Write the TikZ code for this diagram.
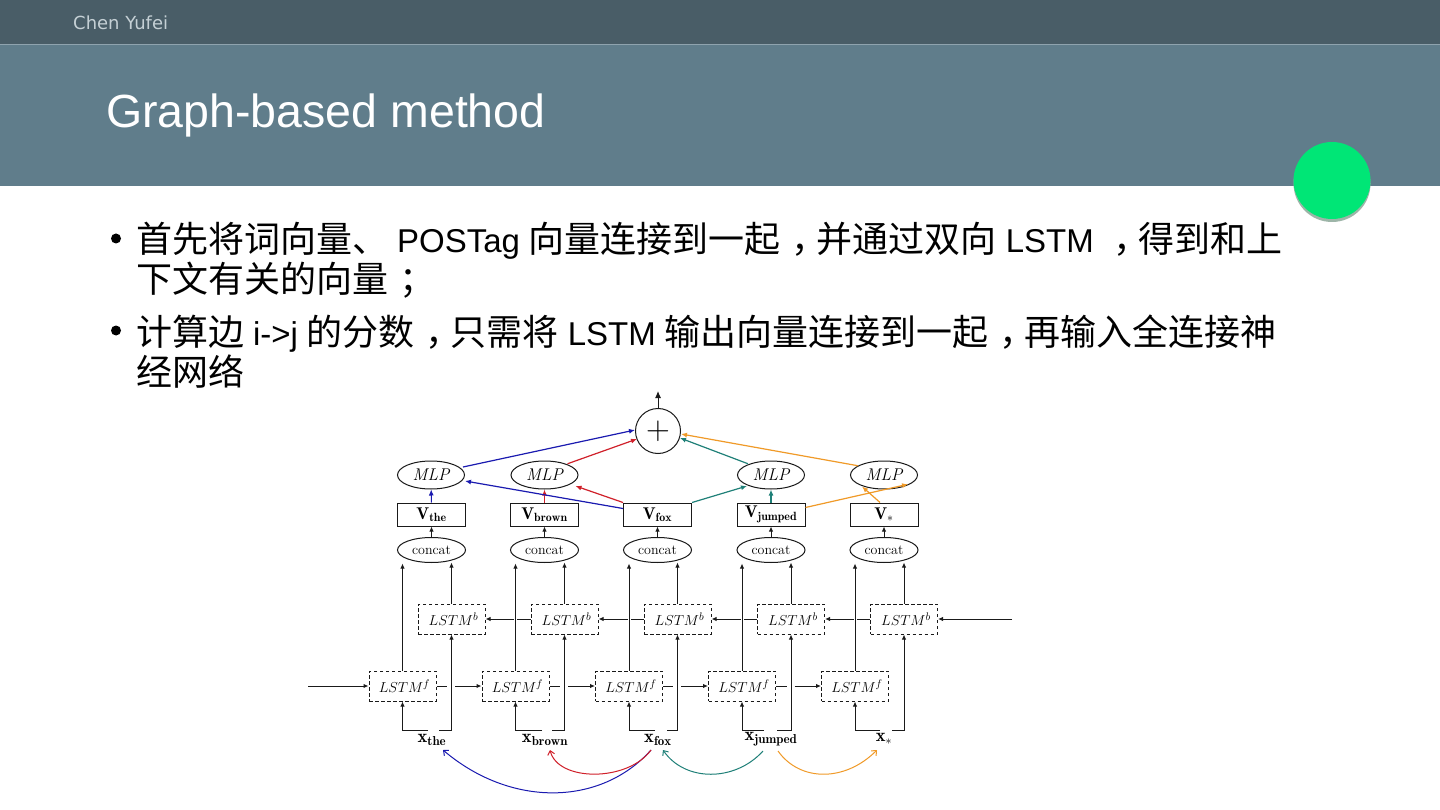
\documentclass[tikz,border=0pt]{standalone}
\usepackage{fontspec}
\newfontfamily\dv{DejaVu Sans}
\newfontfamily\ls{Liberation Sans}
\newfontfamily\cjk{Noto Sans CJK SC}
\usetikzlibrary{arrows.meta,calc,shapes.geometric}
\definecolor{topbar}{HTML}{495D67}
\definecolor{titlebar}{HTML}{607D8B}
\definecolor{barline}{HTML}{8FA3AE}
\definecolor{dotgreen}{HTML}{00E676}
\definecolor{dotshadow}{HTML}{9DB5A8}
\definecolor{nameCol}{HTML}{C5D0D5}
\definecolor{ink}{HTML}{1A1A1A}
\definecolor{bluearc}{HTML}{1A1AB0}
\definecolor{redarc}{HTML}{D0202A}
\definecolor{tealarc}{HTML}{1F8078}
\definecolor{orangearc}{HTML}{F09A28}
\newcommand{\zh}[1]{{\cjk\fontsize{36}{36}\selectfont #1}}
\newcommand{\en}[1]{{\ls\fontsize{33}{33}\selectfont #1}}
\newcommand{\sep}{{\ls\fontsize{32}{32}\selectfont\ }}
\newcommand{\cma}{\zh{\hspace{0.3em}，\hspace{-0.3em}}}
\newcommand{\smc}{\zh{\hspace{0.3em}；\hspace{-0.3em}}}
\tikzset{
  x=1pt,y=-1pt,
  wire/.style={draw=ink,line width=1pt,-{Latex[length=5pt,width=4.5pt]}},
  plainwire/.style={draw=ink,line width=1pt},
  colwire/.style={line width=1.2pt,-{Latex[length=6pt,width=5pt]}},
  arcwire/.style={line width=1pt,-{Straight Barb[length=4pt,width=7pt]}},
  fbox/.style={draw=ink,line width=1pt,dash pattern=on 3.5pt off 2.5pt,minimum width=67pt,minimum height=30pt,inner sep=0pt,font=\fontsize{15.5}{16}\selectfont},
  vbox/.style={draw=ink,line width=1pt,minimum width=68pt,minimum height=23pt,inner sep=0pt,font=\fontsize{17}{17}\selectfont},
  ovalc/.style={draw=ink,line width=1pt,ellipse,minimum width=68pt,minimum height=25pt,inner sep=0pt,font=\fontsize{14}{14}\selectfont},
  ovalm/.style={draw=ink,line width=1pt,ellipse,minimum width=67pt,minimum height=28pt,inner sep=0pt,font=\fontsize{17}{17}\selectfont},
  inlabel/.style={inner sep=0pt,font=\fontsize{18.5}{18}\selectfont},
  bodyline/.style={anchor=base west,inner sep=0pt,text=black},
  bulletdot/.style={circle,fill=black,inner sep=0pt,minimum size=10pt},
}
\begin{document}
\begin{tikzpicture}
\useasboundingbox (0,0) rectangle (1440,810);
\fill[white] (0,0) rectangle (1440,810);
\fill[titlebar] (0,44) rectangle (1440,186);
\fill[topbar] (0,0) rectangle (1440,44);
\fill[barline] (0,43.6) rectangle (1440,44.6);
\node[anchor=base west,inner sep=0pt,text=nameCol,font=\dv\fontsize{18}{18}\selectfont] (author) at (73,30) {Chen Yufei};
\node[anchor=base west,inner sep=0pt,text=white,font=\ls\fontsize{46.5}{46}\selectfont] (title) at (106,128) {Graph-based method};
\fill[dotshadow] (1332,183.5) circle (38.5);
\fill[dotgreen] (1332,180.5) circle (38.5);
\node[bulletdot] (b1) at (116,238.5) {};
\node[bulletdot] (b2) at (116,330.5) {};
\node[bodyline] (l1) at (136,253) {\zh{首先将词向量、}\sep\en{POSTag}\sep\zh{向量连接到一起}\cma\zh{并通过双向}\sep\en{LSTM}\sep\cma\zh{得到和上}};
\node[bodyline] (l2) at (136,293) {\zh{下文有关的向量}\smc};
\node[bodyline] (l3) at (136,345) {\zh{计算边}\sep\en{i->j}\sep\zh{的分数}\cma\zh{只需将}\sep\en{LSTM}\sep\zh{输出向量连接到一起}\cma\zh{再输入全连接神}};
\node[bodyline] (l4) at (136,385) {\zh{经网络}};
% diagram
\node[circle,draw=ink,line width=1pt,minimum size=45pt,inner sep=0pt] (plus) at (658,431) {\fontsize{33}{33}\selectfont +};
\coordinate (top) at (658,391);
\draw[wire,-{Latex[length=7pt,width=6pt]}] (plus) -- (top);
\foreach \n/\x in {the/431.5,brown/544.5,fox/657.5,jumped/771,star/884}{
  \node[ovalc] (c\n) at (\x,550) {concat};
}
\node[ovalm] (mthe) at (431,475) {\itshape MLP};
\node[ovalm] (mbrown) at (544.5,475) {\itshape MLP};
\node[ovalm] (mjumped) at (771,475) {\itshape MLP};
\node[ovalm] (mstar) at (884,475) {\itshape MLP};
\node[vbox] (vthe) at (431.5,514.5) {$\mathbf{V}_{\mathbf{the}}$};
\node[vbox] (vbrown) at (544.5,514.5) {$\mathbf{V}_{\mathbf{brown}}$};
\node[vbox] (vfox) at (657.5,514.5) {$\mathbf{V}_{\mathbf{fox}}$};
\node[vbox] (vjumped) at (771,514.5) {$\mathbf{V}_{\mathbf{jumped}}$};
\node[vbox] (vstar) at (884,514.5) {$\mathbf{V}_{*}$};
\foreach \n in {the,brown,fox,jumped,star}{\draw[wire] (c\n) -- (v\n);}
\foreach \n/\x in {f1/402.5,f2/515.5,f3/629,f4/742,f5/855}{
  \node[fbox] (\n) at (\x,686) {\hspace{4pt}$LSTM^{f}$};
}
\foreach \n/\x in {k1/451.5,k2/564.5,k3/677.5,k4/791,k5/904}{
  \node[fbox] (\n) at (\x,619) {\hspace{4pt}$LSTM^{b}$};
}
\node[inlabel] (xthe) at (432,739.5) {$\mathbf{x}_{\mathbf{the}}$};
\node[inlabel] (xbrown) at (545,739.5) {$\mathbf{x}_{\mathbf{brown}}$};
\node[inlabel] (xfox) at (658,739.5) {$\mathbf{x}_{\mathbf{fox}}$};
\node[inlabel] (xjumped) at (771,739.5) {$\mathbf{x}_{\mathbf{jumped}}$};
\node[inlabel] (xstar) at (884,739) {$\mathbf{x}_{*}$};
% vertical wires
\foreach \f/\k/\fx/\kx/\gl/\gr in {f1/k1/402.5/451.5/428/439,f2/k2/515.5/564.5/542/552,f3/k3/629/677.5/655/667,f4/k4/742/791/764/777,f5/k5/855/904/880/892}{
  \coordinate (tf) at (\fx,563.5);
  \coordinate (tk) at (\kx,562.5);
  \coordinate (gl) at (\gl,730);
  \coordinate (gr) at (\gr,730);
  \coordinate (cl) at (\fx,730);
  \coordinate (cr) at (\kx,730);
  \draw[wire] (\f.north) -- (tf);
  \draw[wire] (\k.north) -- (tk);
  \draw[wire] (gl) -- (cl) -- (\f.south);
  \draw[wire] (gr) -- (cr) -- (\k.south);
}
% horizontal
\coordinate (fin) at (308,686);
\coordinate (kin) at (1012,619);
\draw[wire] (fin) -- (f1);
\draw[wire] (kin) -- (k5);
\foreach \a/\b/\gx in {f1/f2/451.5,f2/f3/564.5,f3/f4/677.5,f4/f5/791}{
  \coordinate (ga) at (\gx-4.5,686);
  \coordinate (gb) at (\gx+3.5,686);
  \draw[plainwire] (\a.east) -- (ga);
  \draw[wire] (gb) -- (\b.west);
}
\foreach \a/\b/\gx in {k2/k1/515.5,k3/k2/629,k4/k3/742,k5/k4/855}{
  \coordinate (ga) at (\gx+1.5,619);
  \coordinate (gb) at (\gx-1.5,619);
  \draw[plainwire] (\a.west) -- (ga);
  \draw[wire] (gb) -- (\b.east);
}
% colored
\draw[colwire,draw=bluearc,line width=1pt] (vthe) -- (mthe);
\draw[colwire,draw=redarc] (vbrown) -- (mbrown);
\draw[colwire,draw=tealarc] (vjumped) -- (mjumped);
\draw[colwire,draw=orangearc] ($(vstar.north)+(-4,0)$) -- ($(mstar.south)+(-22,-3)$);
\draw[colwire,draw=bluearc] ($(mthe.east)+(-2,-8)$) -- ($(plus.west)+(0,-1)$);
\draw[colwire,draw=redarc] ($(mbrown.north east)+(-1,-1)$) -- ($(plus.west)+(2,8)$);
\draw[colwire,draw=tealarc] ($(mjumped.north west)+(1,-1)$) -- ($(plus.east)+(-1,7)$);
\draw[colwire,draw=orangearc] ($(mstar.north west)+(-2,1)$) -- ($(plus.east)+(0,3)$);
\draw[colwire,draw=bluearc] ($(vfox.west)+(0,-6)$) -- ($(mthe.east)+(0,6)$);
\draw[colwire,draw=redarc] (vfox.north west) -- ($(mbrown.east)+(-3,11)$);
\draw[colwire,draw=tealarc] (vfox.north east) -- ($(mjumped.west)+(10,11)$);
\draw[colwire,draw=orangearc] ($(vjumped.east)+(0,-7)$) -- ($(mstar.south east)+(0,-1)$);
% arcs
\coordinate (afox) at (651,750);
\coordinate (athe) at (443,750);
\coordinate (abrown) at (550,750);
\coordinate (afoxr) at (663,750);
\coordinate (astar) at (877,750);
\draw[arcwire,draw=bluearc] (afox) .. controls (600,807) and (510,807) .. (athe);
\draw[arcwire,draw=redarc] (afox) .. controls (628,782) and (558,782) .. (abrown);
\coordinate (ajump) at (763,751);
\draw[arcwire,draw=tealarc] (ajump) .. controls (735,782) and (685,782) .. (afoxr);
\coordinate (bjump) at (778,751);
\draw[arcwire,draw=orangearc] (bjump) .. controls (800,782) and (845,782) .. (astar);
\end{tikzpicture}
\end{document}
